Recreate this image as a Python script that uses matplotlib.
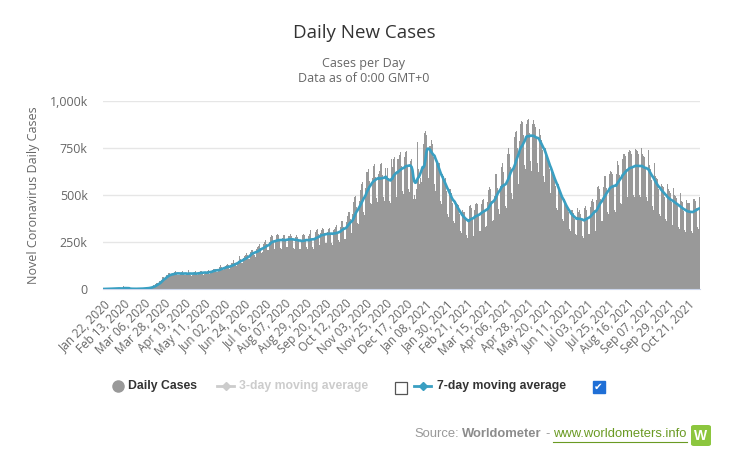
import numpy as np
import pandas as pd
import matplotlib.pyplot as plt
from matplotlib.lines import Line2D
from matplotlib.patches import FancyBboxPatch

W, H = 729, 465

# daily new cases (thousands), one row per week, first day Wed Jan 22, 2020
daily_cases_k = [
    0.1, 0.3, 0.3, 0.7, 0.8, 1.8, 1.5,
    1.7, 2.0, 2.1, 2.6, 2.8, 3.2, 3.9,
    3.7, 3.2, 3.4, 2.7, 3.0, 2.5, 2.0,
    2.1, 15.1, 6.5, 2.6, 2.1, 2.0, 1.9,
    0.5, 0.6, 1.1, 1.0, 1.0, 0.6, 0.9,
    1.1, 1.4, 1.7, 1.9, 1.6, 1.9, 2.4,
    2.2, 2.8, 3.9, 4.0, 4.4, 4.0, 4.6,
    7.3, 7.0, 10.8, 11.0, 13.8, 16.0, 20.0,
    17, 26, 31, 32, 34, 40, 41,
    50, 62, 63, 65, 58, 62, 75,
    77, 84, 84, 79, 72, 74, 77,
    88, 92, 95, 82, 74, 72, 74,
    87, 89, 97, 82, 76, 72, 77,
    78, 87, 101, 86, 74, 71, 76,
    84, 88, 95, 85, 76, 75, 80,
    92, 95, 98, 88, 76, 80, 86,
    86, 97, 97, 100, 82, 86, 91,
    103, 107, 108, 106, 93, 88, 96,
    106, 118, 127, 116, 104, 101, 108,
    121, 130, 131, 129, 104, 115, 122,
    136, 140, 152, 138, 127, 124, 141,
    149, 178, 162, 160, 140, 140, 166,
    173, 180, 192, 181, 160, 161, 198,
    207, 214, 206, 191, 180, 170, 213,
    221, 230, 238, 216, 189, 196, 225,
    241, 249, 261, 237, 209, 208, 249,
    277, 285, 282, 253, 219, 213, 262,
    289, 292, 287, 260, 218, 213, 270,
    285, 288, 285, 266, 224, 221, 281,
    283, 292, 284, 267, 216, 212, 278,
    285, 286, 275, 255, 213, 212, 262,
    287, 290, 286, 262, 223, 211, 265,
    282, 290, 312, 264, 224, 215, 268,
    305, 314, 317, 290, 235, 232, 300,
    315, 323, 320, 300, 245, 243, 302,
    318, 327, 326, 300, 246, 236, 315,
    320, 330, 340, 305, 258, 250, 330,
    345, 362, 364, 330, 268, 265, 355,
    390, 410, 410, 370, 300, 295, 400,
    465, 490, 495, 435, 350, 345, 470,
    525, 560, 570, 505, 410, 395, 535,
    620, 625, 640, 575, 455, 450, 590,
    655, 660, 665, 595, 485, 465, 610,
    630, 665, 670, 605, 490, 470, 635,
    645, 600, 645, 590, 470, 455, 690,
    650, 690, 700, 625, 500, 490, 690,
    690, 715, 730, 655, 520, 505, 700,
    730, 735, 740, 655, 530, 515, 680,
    690, 610, 480, 500, 480, 530, 780,
    760, 640, 560, 590, 570, 640, 770,
    830, 840, 820, 740, 590, 620, 760,
    760, 790, 770, 700, 560, 520, 680,
    680, 670, 670, 600, 470, 450, 610,
    600, 585, 590, 520, 400, 385, 530,
    530, 510, 510, 460, 360, 350, 460,
    460, 450, 445, 400, 310, 300, 400,
    420, 410, 410, 365, 285, 270, 370,
    440, 445, 430, 380, 300, 280, 420,
    450, 460, 450, 400, 310, 310, 450,
    475, 480, 470, 420, 330, 335, 465,
    525, 545, 530, 470, 360, 365, 495,
    580, 610, 610, 535, 425, 400, 550,
    650, 670, 620, 560, 440, 430, 620,
    720, 750, 720, 650, 510, 480, 650,
    810, 835, 840, 750, 600, 560, 785,
    880, 895, 890, 820, 660, 640, 880,
    900, 905, 880, 830, 680, 630, 880,
    900, 880, 860, 810, 670, 620, 850,
    820, 820, 790, 740, 600, 570, 750,
    720, 710, 690, 640, 510, 490, 650,
    620, 620, 590, 550, 430, 420, 560,
    530, 520, 500, 470, 370, 360, 480,
    460, 450, 440, 410, 320, 310, 420,
    420, 420, 405, 375, 290, 285, 430,
    410, 420, 400, 365, 280, 270, 410,
    430, 440, 420, 385, 295, 290, 435,
    470, 480, 465, 420, 320, 310, 475,
    540, 550, 530, 480, 360, 360, 540,
    600, 600, 590, 535, 410, 400, 610,
    630, 620, 610, 550, 420, 410, 610,
    690, 680, 660, 605, 460, 450, 690,
    720, 720, 710, 640, 490, 470, 730,
    740, 735, 720, 655, 500, 490, 745,
    740, 735, 720, 650, 500, 490, 750,
    720, 710, 700, 640, 490, 470, 740,
    660, 650, 640, 580, 440, 420, 670,
    600, 590, 585, 530, 400, 390, 610,
    560, 550, 540, 490, 370, 360, 560,
    530, 520, 510, 465, 355, 340, 535,
    500, 495, 485, 440, 330, 320, 510,
    470, 465, 460, 415, 315, 305, 475,
    460, 455, 455, 410, 310, 300, 480,
    480, 480, 470, 430, 330, 320, 490,
]

tick_labels = [
    "Jan 22, 2020", "Feb 13, 2020", "Mar 06, 2020", "Mar 28, 2020",
    "Apr 19, 2020", "May 11, 2020", "Jun 02, 2020", "Jun 24, 2020",
    "Jul 16, 2020", "Aug 07, 2020", "Aug 29, 2020", "Sep 20, 2020",
    "Oct 12, 2020", "Nov 03, 2020", "Nov 25, 2020", "Dec 17, 2020",
    "Jan 08, 2021", "Jan 30, 2021", "Feb 21, 2021", "Mar 15, 2021",
    "Apr 06, 2021", "Apr 28, 2021", "May 20, 2021", "Jun 11, 2021",
    "Jul 03, 2021", "Jul 25, 2021", "Aug 16, 2021", "Sep 07, 2021",
    "Sep 29, 2021", "Oct 21, 2021",
]
y_ticks = [0, 250, 500, 750, 1000]
y_tick_labels = ["0", "250k", "500k", "750k", "1,000k"]


def fx(x):
    return x / W


def fy(y):
    return 1 - y / H


def main():
    cases = pd.Series(daily_cases_k, dtype=float)
    avg7 = cases.rolling(7, min_periods=1).mean()
    days = np.arange(len(cases))

    fig = plt.figure(figsize=(W / 100, H / 100), dpi=100)
    ax = fig.add_axes([fx(103), fy(289), fx(700) - fx(103), fy(101) - fy(289)])

    ax.bar(days, cases, width=1.0, color="#999999", linewidth=0, zorder=2)
    ax.plot(days, avg7, color="#3a9fc2", linewidth=1.9, zorder=3)

    ax.set_xlim(-0.5, len(cases) - 0.5)
    ax.set_ylim(0, 1000)
    ax.set_yticks(y_ticks)
    ax.set_yticklabels(y_tick_labels, family="Open Sans", fontsize=8.9, color="#666666")
    ax.set_xticks([22 * i for i in range(len(tick_labels))])
    ax.set_xticklabels(tick_labels, rotation=45, ha="right", va="top",
                       rotation_mode="anchor", family="Open Sans",
                       fontsize=8.5, color="#666666")
    ax.tick_params(axis="both", length=0)
    ax.tick_params(axis="y", pad=11)
    ax.tick_params(axis="x", pad=6)
    ax.grid(axis="y", color="#e6e6e6", linewidth=1, zorder=0)
    ax.set_axisbelow(True)
    for side in ["top", "right", "left"]:
        ax.spines[side].set_visible(False)
    ax.spines["bottom"].set_color("#ccd6eb")
    ax.set_ylabel("Novel Coronavirus Daily Cases", family="Open Sans",
                  fontsize=9.0, color="#666666", labelpad=7)

    # titles
    fig.text(fx(364), fy(33), "Daily New Cases", ha="center", va="center",
             family="Open Sans", fontsize=13.5, color="#333333")
    fig.text(fx(364), fy(63), "Cases per Day", ha="center", va="center",
             family="Open Sans", fontsize=9, color="#666666")
    fig.text(fx(364), fy(78), "Data as of 0:00 GMT+0", ha="center", va="center",
             family="Open Sans", fontsize=9, color="#666666")

    # legend
    ly = fy(386)
    fig.add_artist(Line2D([fx(118)], [ly], marker="o", markersize=8,
                          color="#999999", transform=fig.transFigure))
    fig.text(fx(128), ly, "Daily Cases", ha="left", va="center",
             family="Liberation Sans", weight="bold", fontsize=8.8, color="#333333")
    fig.add_artist(Line2D([fx(217), fx(234)], [ly, ly], color="#cccccc", linewidth=2,
                          transform=fig.transFigure))
    fig.add_artist(Line2D([fx(225.5)], [ly], marker="D", markersize=4.5,
                          color="#cccccc", transform=fig.transFigure))
    fig.text(fx(239), ly, "3-day moving average", ha="left", va="center",
             family="Liberation Sans", weight="bold", fontsize=8.8, color="#cccccc")
    fig.add_artist(Line2D([fx(401)], [fy(388)], marker="s", markersize=8.5,
                          markerfacecolor="white", markeredgecolor="#555555",
                          markeredgewidth=0.9, transform=fig.transFigure))
    fig.add_artist(Line2D([fx(414), fx(431)], [ly, ly], color="#3a9fc2", linewidth=2,
                          transform=fig.transFigure))
    fig.add_artist(Line2D([fx(422.5)], [ly], marker="D", markersize=4.5,
                          color="#3a9fc2", transform=fig.transFigure))
    fig.text(fx(437), ly, "7-day moving average", ha="left", va="center",
             family="Liberation Sans", weight="bold", fontsize=8.8, color="#333333")
    fig.add_artist(Line2D([fx(598.5)], [fy(387)], marker="s", markersize=8.5,
                          markerfacecolor="#1f6fd6", markeredgecolor="#1f6fd6",
                          transform=fig.transFigure))
    fig.text(fx(598.5), fy(387), "\u2714", ha="center", va="center",
             family="DejaVu Sans", fontsize=7.5, color="white")

    # source line
    sy = fy(434)
    fig.text(fx(414), sy, "Source:", ha="left", va="center",
             family="Liberation Sans", fontsize=9.4, color="#999999")
    fig.text(fx(462), sy, "Worldometer", ha="left", va="center",
             family="Liberation Sans", weight="bold", fontsize=9.4, color="#8c8c8c")
    fig.text(fx(545), sy, "-", ha="left", va="center",
             family="Liberation Sans", fontsize=9.4, color="#999999")
    fig.text(fx(553), sy, "www.worldometers.info", ha="left", va="center",
             family="Liberation Sans", fontsize=9.4, color="#6a9a23")
    fig.add_artist(Line2D([fx(553), fx(687)], [fy(441.5), fy(441.5)], color="#6a9a23",
                          linewidth=0.8, transform=fig.transFigure))
    fig.add_artist(FancyBboxPatch((fx(691), fy(446)), fx(711) - fx(691), fy(425) - fy(446),
                                  boxstyle="round,pad=0,rounding_size=0.004",
                                  facecolor="#8cc63e", edgecolor="none",
                                  transform=fig.transFigure))
    fig.text(fx(701), fy(435.5), "W", ha="center", va="center",
             family="Liberation Sans", weight="bold", fontsize=10, color="white")

    fig.savefig("out.png", dpi=100)
    plt.close(fig)


if __name__ == "__main__":
    main()
